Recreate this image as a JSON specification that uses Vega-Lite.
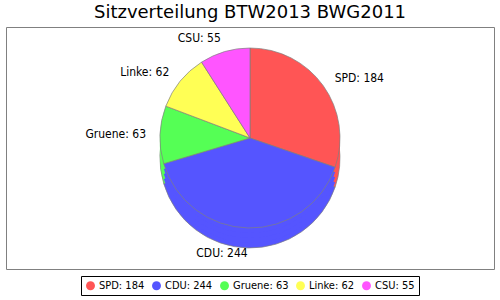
{
  "$schema": "https://vega.github.io/schema/vega-lite/v6.json",
  "width": 488,
  "height": 242,
  "padding": {"left": 6, "right": 6, "top": 4, "bottom": 3},
  "view": {"stroke": "#808080", "fill": "white"},
  "title": {
    "text": "Sitzverteilung BTW2013 BWG2011",
    "fontSize": 18,
    "font": "DejaVu Sans",
    "fontWeight": "normal",
    "color": "black",
    "offset": 5
  },
  "data": {
    "values": [
      {"party": "SPD", "seats": 184, "label": "SPD: 184", "rank": 1},
      {"party": "CDU", "seats": 244, "label": "CDU: 244", "rank": 2},
      {"party": "Gruene", "seats": 63, "label": "Gruene: 63", "rank": 3},
      {"party": "Linke", "seats": 62, "label": "Linke: 62", "rank": 4},
      {"party": "CSU", "seats": 55, "label": "CSU: 55", "rank": 5}
    ]
  },
  "encoding": {
    "theta": {"field": "seats", "type": "quantitative", "stack": true},
    "color": {
      "field": "label",
      "type": "nominal",
      "sort": ["SPD: 184", "CDU: 244", "Gruene: 63", "Linke: 62", "CSU: 55"],
      "scale": {
        "domain": ["SPD: 184", "CDU: 244", "Gruene: 63", "Linke: 62", "CSU: 55"],
        "range": ["#FF5555", "#5555FF", "#55FF55", "#FFFF55", "#FF55FF"]
      },
      "legend": {
        "title": null,
        "orient": "bottom",
        "direction": "horizontal",
        "symbolType": "circle",
        "symbolSize": 80,
        "symbolStrokeWidth": 0,
        "labelFontSize": 11,
        "labelFont": "DejaVu Sans Condensed, DejaVu Sans",
        "labelColor": "black",
        "strokeColor": "black",
        "padding": 4,
        "columnPadding": 6,
        "labelOffset": 3,
        "offset": 7
      }
    },
    "order": {"field": "rank", "type": "quantitative"}
  },
  "layer": [
    {"mark": {"type": "arc", "outerRadius": 90, "yOffset": 10, "stroke": "#808080", "strokeWidth": 0.7}},
    {"mark": {"type": "arc", "outerRadius": 90, "yOffset": 5}},
    {"mark": {"type": "arc", "outerRadius": 90, "yOffset": 0}},
    {"mark": {"type": "arc", "outerRadius": 90, "yOffset": -5}},
    {"mark": {"type": "arc", "outerRadius": 90, "yOffset": -10, "stroke": "#808080", "strokeWidth": 0.7}},
    {
      "mark": {"type": "text", "radius": 104, "yOffset": -10, "align": "left", "fontSize": 12, "font": "DejaVu Sans Condensed, DejaVu Sans"},
      "encoding": {
        "text": {"condition": {"test": "datum.party === 'SPD'", "field": "label"}, "value": ""},
        "color": {"value": "black"},
        "detail": {"field": "label"}
      }
    },
    {
      "mark": {"type": "text", "radius": 104, "yOffset": -10, "align": "right", "fontSize": 12, "font": "DejaVu Sans Condensed, DejaVu Sans"},
      "encoding": {
        "text": {"condition": {"test": "datum.party === 'Gruene' || datum.party === 'Linke' || datum.party === 'CSU'", "field": "label"}, "value": ""},
        "color": {"value": "black"},
        "detail": {"field": "label"}
      }
    },
    {
      "mark": {"type": "text", "radius": 110, "yOffset": -10, "align": "right", "baseline": "top", "fontSize": 12, "font": "DejaVu Sans Condensed, DejaVu Sans"},
      "encoding": {
        "text": {"condition": {"test": "datum.party === 'CDU'", "field": "label"}, "value": ""},
        "color": {"value": "black"},
        "detail": {"field": "label"}
      }
    }
  ],
  "config": {
    "view": {"stroke": "#808080"},
    "legend": {"layout": {"bottom": {"anchor": "middle"}}}
  }
}
